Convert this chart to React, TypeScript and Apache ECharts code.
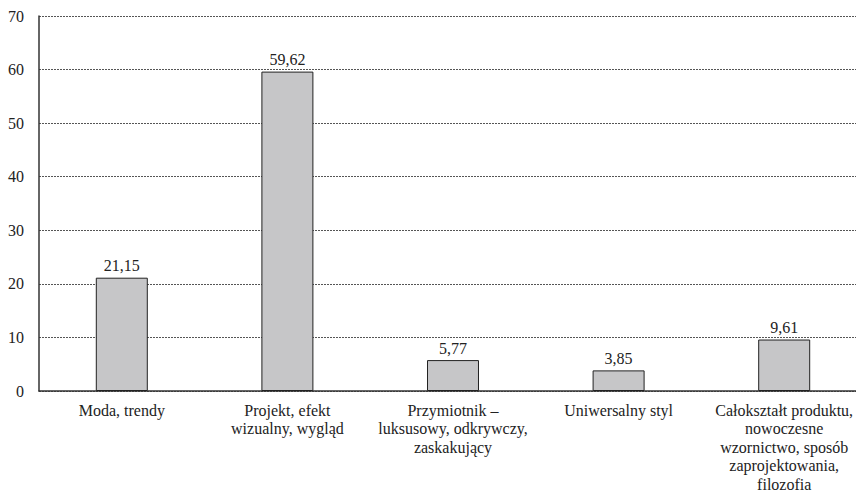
import React, { useEffect, useRef } from "react";
import * as echarts from "echarts";

const categories = [
  "Moda, trendy",
  "Projekt, efekt\nwizualny, wygląd",
  "Przymiotnik –\nluksusowy, odkrywczy,\nzaskakujący",
  "Uniwersalny styl",
  "Całokształt produktu,\nnowoczesne\nwzornictwo, sposób\nzaprojektowania,\nfilozofia",
];
const values = [21.15, 59.62, 5.77, 3.85, 9.61];
const yTicks = { min: 0, max: 70, interval: 10 };

const FONT = "Times New Roman, serif";

export default function App() {
  const ref = useRef<HTMLDivElement>(null);

  useEffect(() => {
    document.body.style.margin = "0";
    document.body.style.overflow = "hidden";
    document.documentElement.style.overflow = "hidden";
    const chart = echarts.init(ref.current!, null, { renderer: "svg" });
    chart.setOption({
      animation: false,
      textStyle: { fontFamily: FONT },
      grid: { left: 39, right: 0, top: 16, bottom: 106, containLabel: false },
      xAxis: {
        type: "category",
        data: categories,
        axisLine: { lineStyle: { color: "#333", width: 1.5 } },
        axisTick: { show: false },
        axisLabel: {
          interval: 0,
          color: "#222",
          fontFamily: FONT,
          fontSize: 16,
          lineHeight: 18.5,
          margin: 10,
        },
      },
      yAxis: {
        type: "value",
        min: yTicks.min,
        max: yTicks.max,
        interval: yTicks.interval,
        axisLine: { show: true, lineStyle: { color: "#333", width: 1.5 } },
        axisTick: { show: false },
        axisLabel: {
          color: "#222",
          fontFamily: FONT,
          fontSize: 16,
          margin: 15,
        },
        splitLine: {
          lineStyle: { color: "#555", type: [2, 1], width: 1 },
        },
      },
      series: [
        {
          type: "bar",
          data: values,
          barWidth: "31.4%",
          itemStyle: { color: "#c6c6c8", borderColor: "#222", borderWidth: 1 },
          label: {
            show: true,
            position: "top",
            distance: 4,
            color: "#222",
            fontFamily: FONT,
            fontSize: 16,
            formatter: (p: any) => p.value.toFixed(2).replace(".", ","),
          },
        },
      ],
    });
    return () => chart.dispose();
  }, []);

  return (
    <div
      ref={ref}
      style={{ position: "absolute", left: 0, top: 0, width: 867, height: 497 }}
    />
  );
}
